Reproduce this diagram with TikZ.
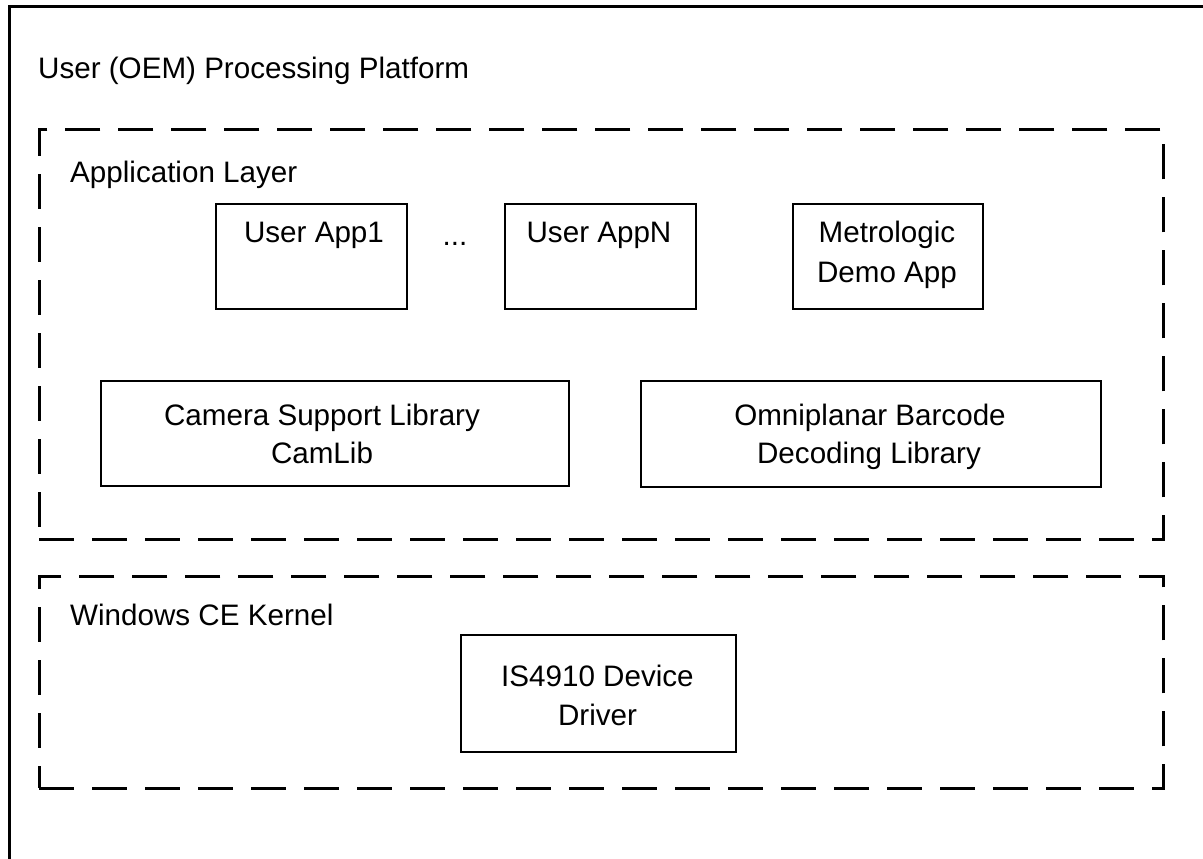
\documentclass[tikz,border=0pt]{standalone}
\usepackage{fontspec}
\setmainfont{Liberation Sans}
\begin{document}
\begin{tikzpicture}[x=1pt,y=-1pt,
  box/.style={draw, line width=1.6pt, rectangle, inner sep=0pt, anchor=north west},
  layer/.style={draw, line width=2.6pt, dash pattern=on 35pt off 18pt, rectangle, inner sep=0pt, anchor=north west},
  txt/.style={font=\fontsize{29.6}{38}\selectfont, inner sep=0pt, anchor=base},
  ltxt/.style={txt, anchor=base west},
  ]
\useasboundingbox (0,0) rectangle (1203,859);
\clip (0,0) rectangle (1203,859);
% outer platform frame (right and bottom edges lie outside the picture)
\node[draw, line width=2.8pt, rectangle, inner sep=0pt, anchor=north west,
      minimum width=1250pt, minimum height=900pt] (platform) at (8,5) {};
\node[ltxt] (ptitle) at (38,78) {User (OEM) Processing Platform};

% application layer
\node[layer, minimum width=1124pt, minimum height=410pt] (applayer) at (38,128) {};
\node[ltxt] (apptitle) at (70,182) {Application Layer};

\node[box, minimum width=191pt, minimum height=105pt] (app1) at (215,203) {};
\node[txt] (app1t) at (314,242) {User App1};
\node[txt] (dots) at (455,245) {...};
\node[box, minimum width=191pt, minimum height=105pt] (appn) at (504,203) {};
\node[txt] (appnt) at (599,242) {User AppN};
\node[box, minimum width=190pt, minimum height=105pt] (demo) at (792,203) {};
\node[txt] (demot1) at (887,242) {Metrologic};
\node[txt] (demot2) at (887,282) {Demo App};

\node[box, minimum width=468pt, minimum height=105pt] (cam) at (100,380) {};
\node[txt] (camt1) at (322,425) {Camera Support Library};
\node[txt] (camt2) at (322,463) {CamLib};
\node[box, minimum width=460pt, minimum height=106pt] (omni) at (640,380) {};
\node[txt] (omnit1) at (870,425) {Omniplanar Barcode};
\node[txt] (omnit2) at (869,463) {Decoding Library};

% kernel layer
\node[layer, minimum width=1124pt, minimum height=212pt] (kernel) at (38,575) {};
\node[ltxt] (ktitle) at (70,625) {Windows CE Kernel};
\node[box, minimum width=275pt, minimum height=117pt] (drv) at (460,634) {};
\node[txt] (drvt1) at (597.5,686) {IS4910 Device};
\node[txt] (drvt2) at (597.5,725) {Driver};
\end{tikzpicture}
\end{document}
